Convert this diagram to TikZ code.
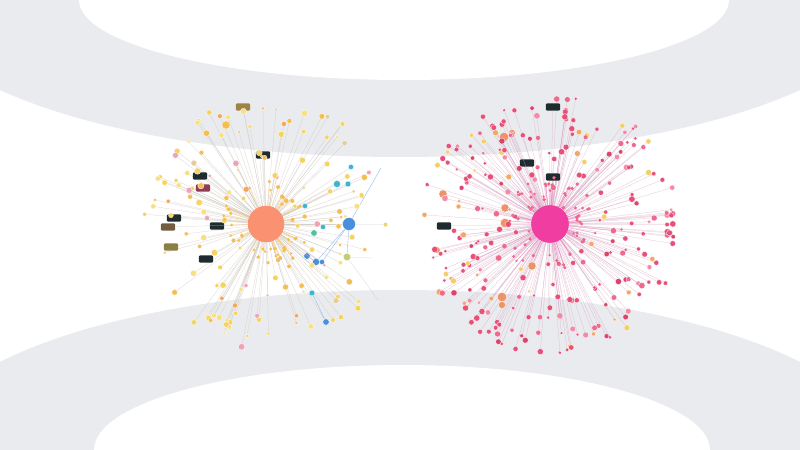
\documentclass[tikz,border=0pt]{standalone}
\usetikzlibrary{calc}
\definecolor{band}{HTML}{E9EBEE}
\definecolor{lhubc}{HTML}{FA9272}
\definecolor{ly1}{HTML}{F6D35C}
\definecolor{ly2}{HTML}{F5BE52}
\definecolor{ly3}{HTML}{F8E080}
\definecolor{lo1}{HTML}{F4A65A}
\definecolor{lpk}{HTML}{F0A3B8}
\definecolor{ltan}{HTML}{E6CC98}
\definecolor{lblue}{HTML}{4A8EDC}
\definecolor{lteal}{HTML}{3DB5CF}
\definecolor{lgreen}{HTML}{4FC2A2}
\definecolor{rhubc}{HTML}{EF3DA2}
\definecolor{rp1}{HTML}{E8507A}
\definecolor{rp2}{HTML}{EC6A8E}
\definecolor{rp3}{HTML}{F28AA8}
\definecolor{rp4}{HTML}{D9466C}
\definecolor{ror}{HTML}{F2A865}
\definecolor{ryl}{HTML}{F5CE66}
\definecolor{labeldark}{HTML}{1F2B2F}
\definecolor{ledgec}{HTML}{CDC6BC}
\definecolor{ledgeh}{HTML}{F5BC66}
\definecolor{redgec}{HTML}{D9A6C4}
\definecolor{redgeh}{HTML}{EE6AAE}
\begin{document}
\begin{tikzpicture}[x=0.03cm,y=-0.03cm,
  dot/.style={circle,inner sep=0pt,draw=white,line width=0.25pt},
  hub/.style={circle,inner sep=0pt,minimum size=31pt},
  lbl/.style={rectangle,rounded corners=0.8pt,fill=labeldark,inner sep=0pt,minimum width=12pt,minimum height=6pt},
  ledge/.style={draw=ledgec,line width=0.22pt,opacity=0.75},
  ledgein/.style={draw=ledgeh,line width=0.35pt,opacity=0.6},
  redge/.style={draw=redgec,line width=0.22pt,opacity=0.7},
  redgein/.style={draw=redgeh,line width=0.35pt,opacity=0.6},
  bedge/.style={draw=lblue!70,line width=0.35pt,opacity=0.8}]
\useasboundingbox (0,0) rectangle (800,450);
\begin{scope}
\clip (0,0) rectangle (800,450);
\fill[white] (0,0) rectangle (800,450);
\fill[band] (400,0) ellipse [x radius=488,y radius=157];
\fill[band] (400,450) ellipse [x radius=479,y radius=160];
\fill[white] (404,0) ellipse [x radius=325,y radius=80];
\fill[white] (402,450) ellipse [x radius=308,y radius=85];
\end{scope}

% hubs
\node[hub,fill=lhubc] (LH) at (266,224) {};
\node[hub,fill=rhubc,minimum size=32pt] (RH) at (550,224) {};

% ---------- left graph: positions and edges ----------
\pgfmathsetseed{11}
\foreach \i in {1,...,140}{
  \pgfmathsetmacro\a{rnd*360}
  \pgfmathsetmacro\r{26+100*sqrt(rnd)}
  \pgfmathsetmacro\s{3.0+2.6*rnd}
  \pgfmathtruncatemacro\k{10*rnd}
  \ifcase\k\def\col{ly1}\or\def\col{ly1}\or\def\col{ly1}\or\def\col{ly2}\or\def\col{ly2}\or\def\col{ly3}\or\def\col{ly3}\or\def\col{lo1}\or\def\col{ltan}\or\def\col{lpk}\else\def\col{ly1}\fi
  \expandafter\xdef\csname Ls\i\endcsname{\s}
  \expandafter\xdef\csname Lc\i\endcsname{\col}
  \coordinate (Lp\i) at ($(LH)+(\a:\r)$);
  \draw[ledge] (LH) -- (Lp\i);
}
\foreach \i in {1,...,45}{
  \pgfmathsetmacro\a{rnd*360}
  \pgfmathsetmacro\r{21+24*rnd}
  \pgfmathsetmacro\s{2.2+1.6*rnd}
  \expandafter\xdef\csname Lis\i\endcsname{\s}
  \coordinate (Lq\i) at ($(LH)+(\a:\r)$);
  \draw[ledgein] (LH) -- (Lq\i);
}
% ---------- right graph: positions and edges ----------
\pgfmathsetseed{29}
\foreach \i in {1,...,260}{
  \pgfmathsetmacro\a{rnd*360}
  \pgfmathsetmacro\r{26+104*sqrt(rnd)}
  \pgfmathsetmacro\s{3.0+2.5*rnd}
  \pgfmathtruncatemacro\k{20*rnd}
  \ifcase\k\def\col{rp1}\or\def\col{rp1}\or\def\col{rp1}\or\def\col{rp1}\or\def\col{rp1}\or\def\col{rp1}\or\def\col{rp1}\or\def\col{rp1}\or\def\col{rp2}\or\def\col{rp2}\or\def\col{rp2}\or\def\col{rp2}\or\def\col{rp3}\or\def\col{rp3}\or\def\col{rp4}\or\def\col{rp4}\or\def\col{rp4}\or\def\col{ror}\or\def\col{ryl}\or\def\col{rp1}\else\def\col{rp1}\fi
  \expandafter\xdef\csname Rs\i\endcsname{\s}
  \expandafter\xdef\csname Rc\i\endcsname{\col}
  \coordinate (Rp\i) at ($(RH)+(\a:\r)$);
  \draw[redge] (RH) -- (Rp\i);
}
\foreach \i in {1,...,60}{
  \pgfmathsetmacro\a{rnd*360}
  \pgfmathsetmacro\r{21+30*rnd}
  \pgfmathsetmacro\s{2.0+1.4*rnd}
  \expandafter\xdef\csname Ris\i\endcsname{\s}
  \coordinate (Rq\i) at ($(RH)+(\a:\r)$);
  \draw[redgein] (RH) -- (Rq\i);
}

% ---------- fixed nodes of the left graph ----------
\foreach \n/\x/\y/\c in {a/263/155/labeldark,b/200/176/labeldark,c/203/188/rp4!60!labeldark,d/174/218/labeldark,e/217/226/labeldark,f/206/259/labeldark,g/168/227/lo1!40!labeldark,h/171/247/ly1!50!labeldark,i/243/107/ly2!60!labeldark}{
  \node[lbl,fill=\c] (LB\n) at (\x,\y) {};
  \draw[ledge] (LH) -- (LB\n);
}
\node[dot,fill=ly2,minimum size=7pt] (LO1) at (226,125) {};
\foreach \n/\x/\y/\c/\s in {1/349/224/lblue/11,2/307/256/lblue/5.5,3/316/262/lblue/6,4/337/184/lteal/6,5/348/184/lteal/5,6/351/167/lteal/4.5,7/305/206/lteal/4.5,8/323/227/lteal/4.5,9/314/233/lgreen/5.5,10/347/257/ly1!70!lgreen/6.5,11/312/293/lteal/5,12/326/322/lblue/5.5,13/322/262/lblue/4.5}{
  \node[dot,fill=\c,minimum size=\s pt] (B\n) at (\x,\y) {};
  \draw[ledge] (LH) -- (B\n);
}
\coordinate (BE1) at (381,168);
\coordinate (BE2) at (378,300);
\coordinate (BE3) at (372,258);
\draw[bedge] (B1) -- (BE1);
\draw[bedge] (B1) -- (B13);
\draw[bedge] (B1) -- (B3);
\draw[bedge] (B3) -- (B2);
\draw[bedge] (B1) -- (B10);
\draw[ledge] (B10) -- (BE2);
\draw[ledge] (B10) -- (BE3);
\draw[bedge] (B11) -- (B12);

% ---------- fixed nodes of the right graph ----------
\foreach \n/\x/\y in {a/553/107,b/527/163,c/553/177,d/444/226}{
  \node[lbl] (RB\n) at (\x,\y) {};
  \draw[redge] (RH) -- (RB\n);
}
\foreach \n/\x/\y/\s in {a/504/137/8,b/512/133/6,c/443/194/7,d/505/208/7,e/505/223/8,f/532/266/7,g/502/297/8,h/502/305/6,i/437/250/5.5}{
  \node[dot,fill=ror!80!rp4,minimum size=\s pt] (RC\n) at (\x,\y) {};
  \draw[redge] (RH) -- (RC\n);
}

% ---------- random nodes on top ----------
\foreach \i in {1,...,140}{
  \edef\col{\csname Lc\i\endcsname}\edef\s{\csname Ls\i\endcsname}
  \node[dot,fill=\col,minimum size=\s pt] (L\i) at (Lp\i) {};
}
\foreach \i in {1,...,45}{
  \edef\s{\csname Lis\i\endcsname}
  \node[dot,fill=ly2,draw=none,minimum size=\s pt] (Li\i) at (Lq\i) {};
}
\foreach \i in {1,...,260}{
  \edef\col{\csname Rc\i\endcsname}\edef\s{\csname Rs\i\endcsname}
  \node[dot,fill=\col,minimum size=\s pt] (R\i) at (Rp\i) {};
}
\foreach \i in {1,...,60}{
  \edef\s{\csname Ris\i\endcsname}
  \node[dot,fill=rp2,draw=none,minimum size=\s pt] (Ri\i) at (Rq\i) {};
}
\node[hub,fill=lhubc] (LH2) at (LH) {};
\node[hub,fill=rhubc,minimum size=32pt] (RH2) at (RH) {};
\end{tikzpicture}
\end{document}
